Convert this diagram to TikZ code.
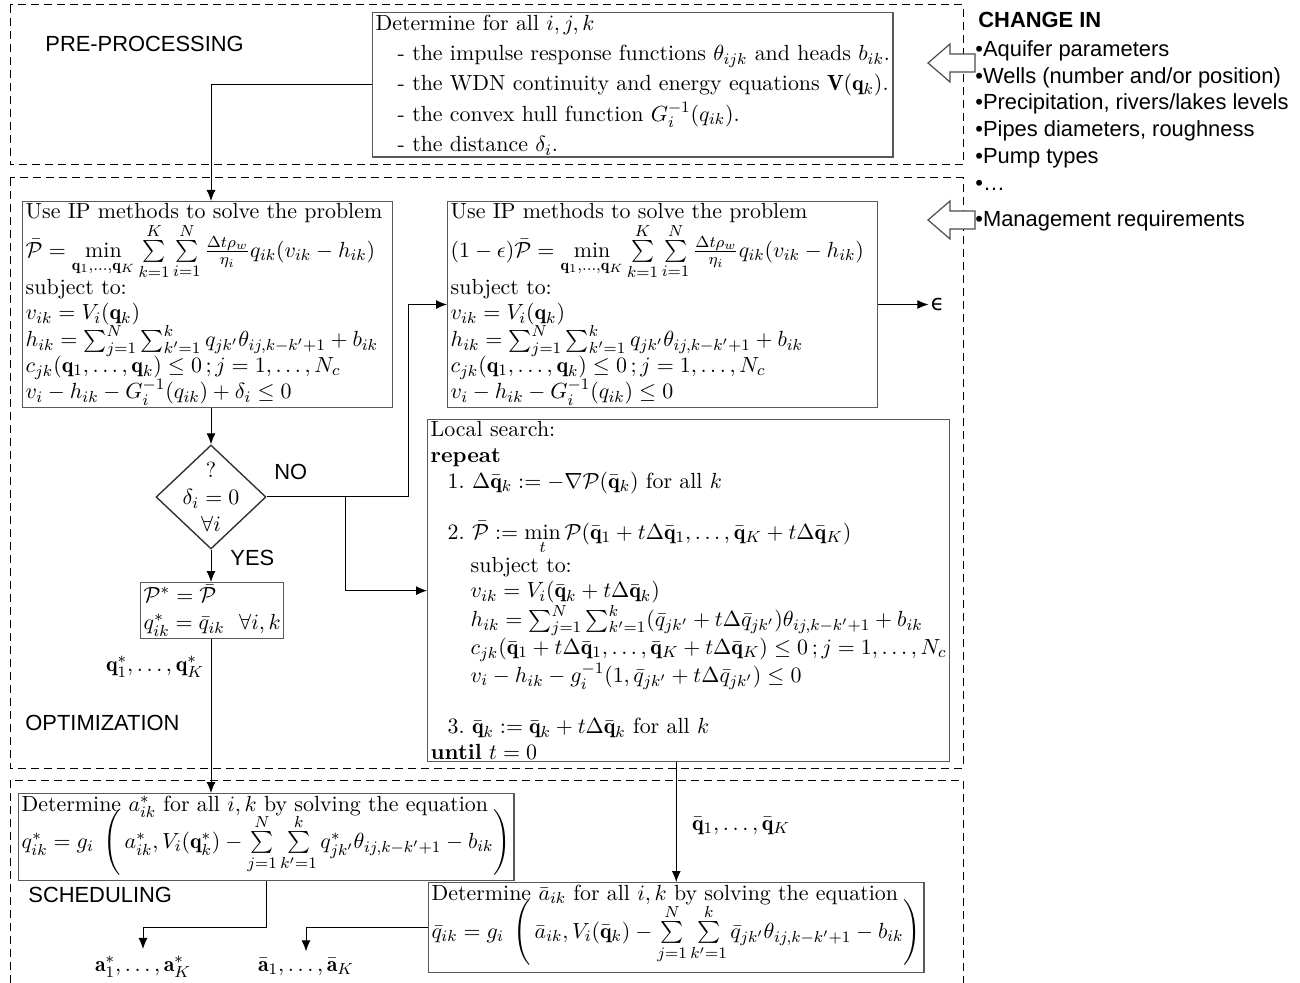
\documentclass[tikz,border=0pt]{standalone}
\usepackage{amsmath,amssymb}
\usepackage{fontspec}
\newfontfamily\labelsf{Liberation Sans}
\newfontfamily\symsf{DejaVu Sans}
\newcommand\tightlines{\fontsize{10.95}{12.6}\selectfont\lineskiplimit=0pt\relax\lineskip=0pt\relax}
\usetikzlibrary{arrows.meta,shapes.geometric,positioning}

\begin{document}
\begin{tikzpicture}[x=0.5pt, y=-0.5pt,
  font=\fontsize{10.95}{13.6}\selectfont,
  stage/.style={dash pattern=on 4pt off 2.5pt, line width=0.5pt},
  stagename/.style={anchor=west, inner sep=0pt, font=\labelsf\fontsize{10.95}{13.4}\selectfont},
  mathbox/.style={draw=black!65, line width=0.7pt, anchor=north west, align=left, inner xsep=1.5pt, inner ysep=1pt},
  tight/.style={font=\tightlines},
  decision/.style={diamond, draw=black!80, line width=0.7pt, minimum width=55pt, minimum height=52pt, inner sep=0pt},
  flow/.style={-{Latex[length=5.5pt,width=4.5pt]}, line width=0.5pt},
  hollow/.style={draw=black!70, line width=0.6pt, fill=white}]
\useasboundingbox (0,0) rectangle (1300,983);

\draw[stage] (10,5) rectangle (963,165);
\draw[stage] (10,178) rectangle (963,768);
\draw[stage] (10,983) |- (963,780) -- (963,983);

\node[stagename] (pre) at (45,44) {PRE-PROCESSING};
\node[stagename] (opt) at (25,723) {OPTIMIZATION};
\node[stagename] (sched) at (28,895) {SCHEDULING};

\node[mathbox] (determine) at (372,12) {Determine for all $i,j,k$\\[1.6pt]
  \hspace*{11pt}- the impulse response functions $\theta_{ijk}$ and heads $b_{ik}$.\\[1.6pt]
  \hspace*{11pt}- the WDN continuity and energy equations $\mathbf{V}(\mathbf{q}_k)$.\\[1.6pt]
  \hspace*{11pt}- the convex hull function $G_i^{-1}(q_{ik})$.\\[1.6pt]
  \hspace*{11pt}- the distance $\delta_i$.};

\node[mathbox, tight, text width=182pt] (ipfirst) at (22,201) {\makebox[\hsize][s]{Use IP methods to solve the problem}\\
  $\bar{\mathcal{P}} = \min\limits_{\mathbf{q}_1,\ldots,\mathbf{q}_K}\sum\limits_{k=1}^{K}\sum\limits_{i=1}^{N}\frac{\Delta t\rho_w}{\eta_i}q_{ik}(v_{ik}-h_{ik})$\\
  subject to:\\
  $v_{ik}=V_i(\mathbf{q}_k)$\\
  $h_{ik}=\sum_{j=1}^{N}\sum_{k'=1}^{k}q_{jk'}\theta_{ij,k-k'+1}+b_{ik}$\\
  $c_{jk}(\mathbf{q}_1,\ldots,\mathbf{q}_k)\le 0\,;j=1,\ldots,N_c$\\
  $v_i-h_{ik}-G_i^{-1}(q_{ik})+\delta_i\le 0$};

\node[mathbox, tight, text width=212pt] (ipsecond) at (447,201) {\makebox[\hsize][s]{Use IP methods to solve the problem}\\
  $(1-\epsilon)\bar{\mathcal{P}} = \min\limits_{\mathbf{q}_1,\ldots,\mathbf{q}_K}\sum\limits_{k=1}^{K}\sum\limits_{i=1}^{N}\frac{\Delta t\rho_w}{\eta_i}q_{ik}(v_{ik}-h_{ik})$\\
  subject to:\\
  $v_{ik}=V_i(\mathbf{q}_k)$\\
  $h_{ik}=\sum_{j=1}^{N}\sum_{k'=1}^{k}q_{jk'}\theta_{ij,k-k'+1}+b_{ik}$\\
  $c_{jk}(\mathbf{q}_1,\ldots,\mathbf{q}_k)\le 0\,;j=1,\ldots,N_c$\\
  $v_i-h_{ik}-G_i^{-1}(q_{ik})\le 0$};
\node[right=25pt of ipsecond, inner sep=1pt, font=\symsf\fontsize{10.95}{13.4}\selectfont] (eps) {ϵ};

\node[mathbox, font=\fontsize{10.95}{12.8}\selectfont] (search) at (427,419) {Local search:\\
  \textbf{repeat}\\
  \hspace*{8.5pt}1.\ $\Delta\bar{\mathbf{q}}_k := -\nabla\mathcal{P}(\bar{\mathbf{q}}_k)$ for all $k$\\[12.8pt]
  \hspace*{8.5pt}2.\ $\bar{\mathcal{P}} := \min\limits_t\mathcal{P}(\bar{\mathbf{q}}_1+t\Delta\bar{\mathbf{q}}_1,\ldots,\bar{\mathbf{q}}_K+t\Delta\bar{\mathbf{q}}_K)$\\
  \hspace*{20pt}subject to:\\
  \hspace*{20pt}$v_{ik}=V_i(\bar{\mathbf{q}}_k+t\Delta\bar{\mathbf{q}}_k)$\\
  \hspace*{20pt}$h_{ik}=\sum_{j=1}^{N}\sum_{k'=1}^{k}(\bar q_{jk'}+t\Delta\bar q_{jk'})\theta_{ij,k-k'+1}+b_{ik}$\\
  \hspace*{20pt}$c_{jk}(\bar{\mathbf{q}}_1+t\Delta\bar{\mathbf{q}}_1,\ldots,\bar{\mathbf{q}}_K+t\Delta\bar{\mathbf{q}}_K)\le 0\,;j=1,\ldots,N_c$\\
  \hspace*{20pt}$v_i-h_{ik}-g_i^{-1}(1,\bar q_{jk'}+t\Delta\bar q_{jk'})\le 0$\\[12.8pt]
  \hspace*{8.5pt}3.\ $\bar{\mathbf{q}}_k := \bar{\mathbf{q}}_k+t\Delta\bar{\mathbf{q}}_k$ for all $k$\\
  \textbf{until} $t=0$};

\node[decision] (test) at (211,497) {};
\node[align=center, inner sep=0pt] (testtext) at (test) {?\\ $\delta_i=0$\\ $\forall i$};
\node[stagename] (no) at (274,472) {NO};
\node[stagename] (yes) at (230,558) {YES};

\node[mathbox] (optimum) at (140,582) {$\mathcal{P}^*=\bar{\mathcal{P}}$\\ $q^*_{ik}=\bar q_{ik}\ \ \forall i,k$};

\node[mathbox] (assign) at (18,793) {Determine $a^*_{ik}$ for all $i,k$ by solving the equation\\[5pt]
  \raisebox{0pt}[9pt][15pt]{$q^*_{ik}=g_i\;\left(\,a^*_{ik},V_i(\mathbf{q}^*_k)-\sum\limits_{j=1}^{N}\sum\limits_{k'=1}^{k}q^*_{jk'}\theta_{ij,k-k'+1}-b_{ik}\right)$}};
\node[mathbox] (assignbar) at (428,882) {Determine $\bar a_{ik}$ for all $i,k$ by solving the equation\\[5.5pt]
  \raisebox{0pt}[9pt][16pt]{$\bar q_{ik}=g_i\;\left(\,\bar a_{ik},V_i(\bar{\mathbf{q}}_k)-\sum\limits_{j=1}^{N}\sum\limits_{k'=1}^{k}\bar q_{jk'}\theta_{ij,k-k'+1}-b_{ik}\right)$}};
\node (astar) at (143,967) {$\mathbf{a}^*_1,\ldots,\mathbf{a}^*_K$};
\node (abar) at (306,967) {$\bar{\mathbf{a}}_1,\ldots,\bar{\mathbf{a}}_K$};
\node (qbar) at (741,826) {$\bar{\mathbf{q}}_1,\ldots,\bar{\mathbf{q}}_K$};

\coordinate (nosplit) at (345,497);
\coordinate (nojog) at (408,497);
\coordinate (abend) at (assign.south |- assignbar.west);

\draw[flow] (determine.west) -| (test |- ipfirst.north);
\draw[flow] (test |- ipfirst.south) -- (test.north);
\draw[flow] (test.south) -- (test |- optimum.north);
\draw[flow] (test |- optimum.south) -- node[pos=0.18, left] (qstar) {$\mathbf{q}^*_1,\ldots,\mathbf{q}^*_K$} (test |- assign.north);
\draw[flow] (test.east) -- (nojog) |- (ipsecond.west);
\draw[flow] (nosplit) |- (search.west);
\draw[flow] (ipsecond.east) -- (eps.west);
\draw[flow] (assignbar.north |- search.south) -- (assignbar.north);
\draw[flow] (assign.south) -- (abend) -| (astar.north);
\draw[flow] (assignbar.west) -| (abar.north);

\draw[hollow] (928,63) -- (950,44) -- (950,54) -- (975,54) -- (975,72) -- (950,72) -- (950,82) -- cycle;
\draw[hollow] (928,220) -- (950,201) -- (950,211) -- (975,211) -- (975,229) -- (950,229) -- (950,239) -- cycle;

\node[stagename, font=\labelsf\bfseries\fontsize{10.95}{13.4}\selectfont] (changehead) at (978,20) {CHANGE IN};
\node[anchor=north west, align=left, inner sep=0pt, font=\labelsf\fontsize{10.95}{13.4}\selectfont] (changelist) at (975,40) {•Aquifer parameters\\ •Wells (number and/or position)\\ •Precipitation, rivers/lakes levels\\ •Pipes diameters, roughness\\ •Pump types\\ •…};
\node[stagename] (manage) at (975,221) {•Management requirements};
\end{tikzpicture}
\end{document}
